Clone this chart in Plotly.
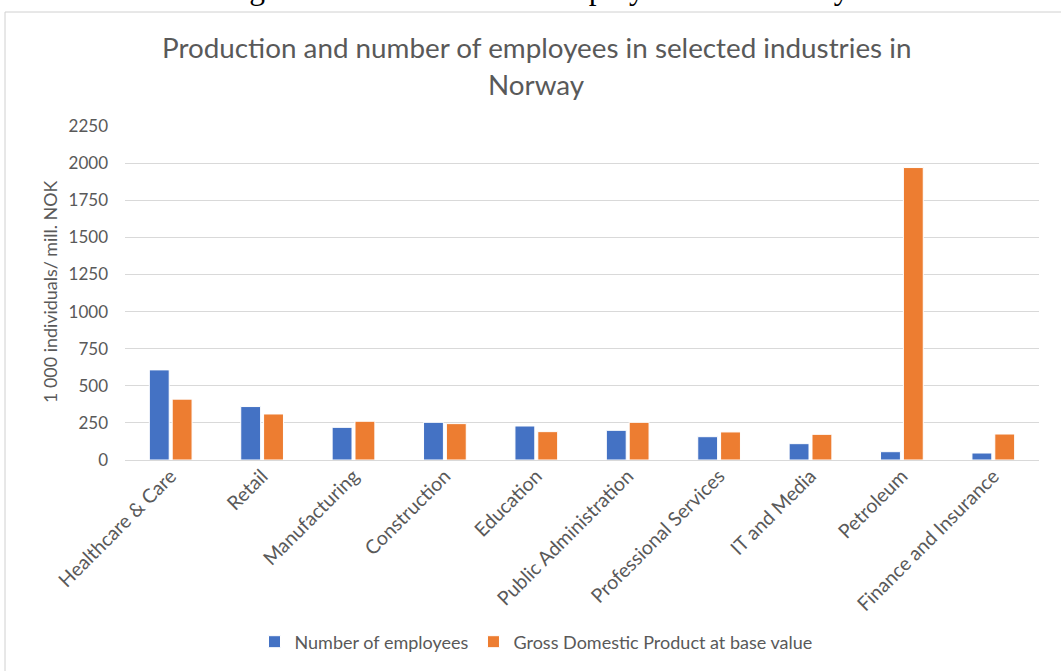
import plotly.graph_objects as go

# Industries and values (1 000 employees / GDP in mill. NOK)
industries = [
    "Healthcare & Care", "Retail", "Manufacturing", "Construction", "Education",
    "Public Administration", "Professional Services", "IT and Media", "Petroleum",
    "Finance and Insurance",
]
employees = [607, 360, 220, 254, 229, 200, 157, 110, 56, 47]
gdp = [410, 310, 261, 245, 191, 254, 189, 173, 1970, 175]

y_ticks = [0, 250, 500, 750, 1000, 1250, 1500, 1750, 2000, 2250]

W, H = 1061, 671
L, R, T, B = 125, 22, 126, 211
PW, PH = W - L - R, H - T - B

def px_x(x):
    return (x - L) / PW

def px_y(y):
    return (H - B - y) / PH

FONT = "Lato"
GREY = "#595959"

fig = go.Figure()
fig.add_trace(go.Bar(
    name="Number of employees", x=industries, y=employees,
    marker=dict(color="#4472C4", line=dict(color="white", width=1)),
))
fig.add_trace(go.Bar(
    name="Gross Domestic Product at base value", x=industries, y=gdp,
    marker=dict(color="#ED7D31", line=dict(color="white", width=1)),
))

fig.update_layout(
    width=W, height=H,
    margin=dict(l=L, r=R, t=T, b=B, autoexpand=False),
    paper_bgcolor="white", plot_bgcolor="white",
    barmode="group", bargap=0.5, bargroupgap=0.13,
    font=dict(family=FONT, color=GREY, size=16),
    showlegend=True,
    legend=dict(
        orientation="h", x=px_x(536), xanchor="center",
        y=px_y(642), yanchor="middle",
        font=dict(family=FONT, size=18, color=GREY),
        itemwidth=30, traceorder="normal",
    ),
)

fig.update_xaxes(
    type="category", tickangle=-45, showgrid=False, showline=False,
    tickfont=dict(family=FONT, size=19.5, color=GREY), ticks="",
)
fig.update_yaxes(
    range=[0, 2250], tickvals=y_ticks, ticktext=[str(v) for v in y_ticks],
    showgrid=True, gridcolor="#D9D9D9", gridwidth=1,
    zeroline=True, zerolinecolor="#D9D9D9", zerolinewidth=1,
    showline=False, ticks="", ticklabelstandoff=16,
    tickfont=dict(family=FONT, size=17, color=GREY),
)

annotations = [
    dict(text="Production and number of employees in selected industries in",
         x=px_x(536), y=px_y(47), xanchor="center", yanchor="middle",
         font=dict(family=FONT, size=27.8, color=GREY)),
    dict(text="Norway", x=px_x(536), y=px_y(84), xanchor="center", yanchor="middle",
         font=dict(family=FONT, size=27.8, color=GREY)),
    dict(text="1 000 individuals/ mill. NOK", textangle=-90,
         x=px_x(50), y=px_y(292), xanchor="center", yanchor="middle",
         font=dict(family=FONT, size=17.9, color=GREY)),
    dict(text="Figure 3: Production and Employment in Norway",
         x=px_x(536), y=px_y(-11.8), xanchor="center", yanchor="middle",
         font=dict(family="Liberation Serif", size=31.5, color="black")),
]
for a in annotations:
    a.update(xref="paper", yref="paper", showarrow=False)
fig.update_layout(annotations=annotations)

# Chart frame
fig.add_shape(type="rect", xref="paper", yref="paper",
              x0=px_x(5), x1=px_x(1075), y0=px_y(690), y1=px_y(12),
              line=dict(color="#D0D0D0", width=1), layer="below")

fig.write_html("out.html")
